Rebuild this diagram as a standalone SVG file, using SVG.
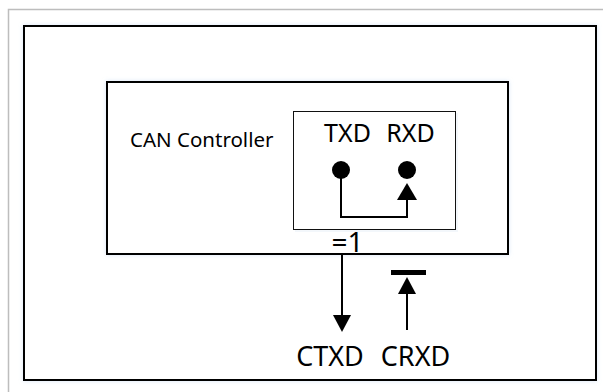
<svg xmlns="http://www.w3.org/2000/svg" width="603" height="392" viewBox="0 0 603 392">
<style>
.box{fill:#fff;stroke:#000;stroke-width:2}
.inner{fill:#fff;stroke:#111;stroke-width:1}
.wire{fill:none;stroke:#000;stroke-width:2}
.t{font-family:"Noto Sans","Open Sans","DejaVu Sans",sans-serif;fill:#000}
</style>
<defs>
<filter id="sh" x="-5%" y="-5%" width="110%" height="110%">
<feDropShadow dx="0" dy="0" stdDeviation="2" flood-color="#cfe0f5" flood-opacity="0.8"/>
</filter>
</defs>
<rect width="603" height="392" fill="#fff"/>
<path d="M8.5,392 V9.5 H603" fill="none" stroke="#bdbdbd" stroke-width="1.5"/>
<g id="outer">
<rect class="box" x="24" y="26" width="572" height="354" filter="url(#sh)"/>
</g>
<g id="can-controller">
<rect class="box" x="107" y="82" width="401" height="172" filter="url(#sh)"/>
<text class="t" x="130" y="147" font-size="20.5">CAN Controller</text>
</g>
<g id="pins">
<rect x="295" y="113" width="163" height="119" fill="#eef3fa" opacity="0.7"/>
<rect class="inner" x="293.5" y="111.5" width="162" height="118"/>
<text class="t" x="347.5" y="142" font-size="25" text-anchor="middle">TXD</text>
<text class="t" x="410.5" y="142" font-size="25" text-anchor="middle">RXD</text>
<circle cx="341" cy="170" r="9" fill="#000"/>
<circle cx="407" cy="170" r="9" fill="#000"/>
</g>
<g id="xor">
<text class="t" x="347.5" y="252" font-size="28" text-anchor="middle">=1</text>
</g>
<g id="ctxd">
<text class="t" x="330" y="366" font-size="27" text-anchor="middle">CTXD</text>
</g>
<g id="crxd">
<rect x="391" y="270" width="35" height="5" fill="#000"/>
<text class="t" x="415.5" y="366" font-size="27" text-anchor="middle">CRXD</text>
</g>
<g id="connectors">
<path class="wire" d="M341,170 V217 H407 V200"/>
<path d="M397,200 L407,183 L417,200 Z" fill="#000"/>
<path class="wire" d="M342,254 V316"/>
<path d="M333,315 L342,332 L351,315 Z" fill="#000"/>
<path class="wire" d="M407,330 V293"/>
<path d="M398,294 L407,277 L416,294 Z" fill="#000"/>
</g>
</svg>
